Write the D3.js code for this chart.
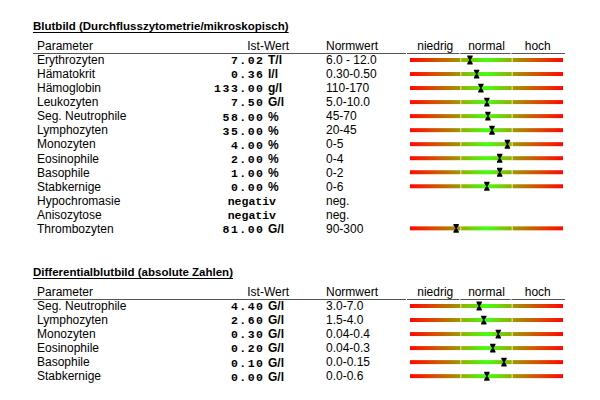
<!DOCTYPE html>
<html>
<head>
<meta charset="utf-8">
<script src="https://cdn.jsdelivr.net/npm/d3@7"></script>
<style>
  body { margin: 0; background: #fff; }
  svg { display: block; }
  text { font-family: "Liberation Sans", Arial, sans-serif; font-size: 12px; fill: #000; }
  .title { font-weight: bold; font-size: 11.5px; }
  .num { font-family: "Liberation Mono", "DejaVu Sans Mono", monospace; font-weight: bold; font-size: 11.5px; letter-spacing: 1.5px; }
  .word { font-family: "Liberation Mono", "DejaVu Sans Mono", monospace; font-weight: bold; font-size: 11.5px; }
  .unit { font-weight: bold; font-size: 12px; }
</style>
</head>
<body>
<svg id="chart" width="600" height="400"></svg>
<script>
// Blutbild
const titles = ["Blutbild (Durchflusszytometrie/mikroskopisch)", "Differentialblutbild (absolute Zahlen)"];
const headers = ["Parameter", "Ist-Wert", "Normwert"];
const zones = ["niedrig", "normal", "hoch"];

const params1 = ["Erythrozyten", "Hämatokrit", "Hämoglobin", "Leukozyten", "Seg. Neutrophile", "Lymphozyten",
  "Monozyten", "Eosinophile", "Basophile", "Stabkernige", "Hypochromasie", "Anisozytose", "Thrombozyten"];
const values1 = [7.02, 0.36, 133.0, 7.5, 58.0, 35.0, 4.0, 2.0, 1.0, 0.0, "negativ", "negativ", 81.0];
const units1 = ["T/l", "l/l", "g/l", "G/l", "%", "%", "%", "%", "%", "%", "", "", "G/l"];
const norms1 = ["6.0 - 12.0", "0.30-0.50", "110-170", "5.0-10.0", "45-70", "20-45", "0-5", "0-4", "0-2", "0-6",
  "neg.", "neg.", "90-300"];
const lower1 = [6, 0.3, 110, 5, 45, 20, 0, 0, 0, 0, null, null, 90];
const upper1 = [12, 0.5, 170, 10, 70, 45, 5, 4, 2, 6, null, null, 300];

// Differentialblutbild
const params2 = ["Seg. Neutrophile", "Lymphozyten", "Monozyten", "Eosinophile", "Basophile", "Stabkernige"];
const values2 = [4.4, 2.6, 0.3, 0.2, 0.1, 0.0];
const units2 = ["G/l", "G/l", "G/l", "G/l", "G/l", "G/l"];
const norms2 = ["3.0-7.0", "1.5-4.0", "0.04-0.4", "0.04-0.3", "0.0-0.15", "0.0-0.6"];
const lower2 = [3, 1.5, 0.04, 0.04, 0, 0];
const upper2 = [7, 4, 0.4, 0.3, 0.15, 0.6];

const svg = d3.select("#chart");
const fmt = d3.format(".2f");

// colour ramps for the three zones
const defs = svg.append("defs");
function grad(id, stops) {
  const g = defs.append("linearGradient").attr("id", id);
  stops.forEach(s => g.append("stop").attr("offset", s[0]).attr("stop-color", s[1]));
}
grad("g-niedrig", [[0, "#ff0800"], [0.45, "#dc4600"], [1, "#9c9a00"]]);
grad("g-normal", [[0, "#94ae00"], [0.5, "#44ff11"], [1, "#94ae00"]]);
grad("g-hoch", [[0, "#9c9a00"], [0.55, "#dc4600"], [1, "#ff0800"]]);

const zoneX = d3.scaleBand().domain(zones).range([410, 563]).paddingInner(0.015);

function drawSection(offsetY, title, params, values, units, norms, lower, upper) {
  const g = svg.append("g").attr("transform", `translate(0,${offsetY})`);

  const t = g.append("text").attr("class", "title").attr("x", 33).attr("y", 30).text(title);
  const tw = t.node().getComputedTextLength();
  g.append("rect").attr("x", 33).attr("y", 32).attr("width", tw).attr("height", 1).attr("fill", "#000");

  // header
  g.append("text").attr("x", 37).attr("y", 50).text(headers[0]);
  g.append("text").attr("x", 289).attr("y", 50).attr("text-anchor", "end").text(headers[1]);
  g.append("text").attr("x", 326).attr("y", 50).text(headers[2]);
  g.selectAll(".zh").data(zones).join("text")
    .attr("x", d => zoneX(d) + zoneX.bandwidth() / 2)
    .attr("y", 50).attr("text-anchor", "middle").text(d => d);

  // header rule, broken at the zone columns
  const cuts = [33, zoneX("niedrig") - 3, zoneX("normal") - 1, zoneX("hoch") - 1, 566];
  g.selectAll(".rule").data(d3.pairs(cuts)).join("rect")
    .attr("x", d => d[0]).attr("y", 53)
    .attr("width", d => d[1] - d[0] - 1).attr("height", 1).attr("fill", "#555");

  const y = d3.scalePoint().domain(d3.range(params.length)).range([60, 60 + 14.03 * (params.length - 1)]);

  const rows = g.selectAll(".row").data(params).join("g")
    .attr("transform", (d, i) => `translate(0,${y(i)})`);

  rows.append("text").attr("x", 37).attr("y", 4.3).text(d => d);

  rows.append("text")
    .attr("class", (d, i) => typeof values[i] === "number" ? "num" : "word")
    .attr("x", (d, i) => typeof values[i] === "number" ? 264.5 : 276)
    .attr("y", 4.4).attr("text-anchor", "end")
    .text((d, i) => typeof values[i] === "number" ? fmt(values[i]) : values[i]);

  rows.append("text").attr("class", "unit").attr("x", 268).attr("y", 4.4).text((d, i) => units[i]);
  rows.append("text").attr("x", 326).attr("y", 4.3).text((d, i) => norms[i]);

  const barRows = rows.filter((d, i) => lower[i] !== null);

  barRows.selectAll(".seg").data(zones).join("rect")
    .attr("x", d => zoneX(d)).attr("y", -2)
    .attr("width", zoneX.bandwidth()).attr("height", 4)
    .attr("fill", d => `url(#g-${d})`);

  barRows.each(function (d) {
    const i = params.indexOf(d);
    const lo = lower[i], hi = upper[i];
    const x = d3.scaleLinear()
      .domain(lo > 0 ? [0, lo, hi, 2 * hi] : [-2 * hi, -hi, hi, 2 * hi])
      .range([zoneX("niedrig"), zoneX("normal"), zoneX("hoch"), zoneX("hoch") + zoneX.bandwidth()])
      .clamp(true);
    d3.select(this).append("path")
      .attr("transform", `translate(${x(values[i])},0)`)
      .attr("d", "M-2.7,-4.4L2.7,-4.4L2.7,-3.2L0.6,0L2.7,3.2L2.7,4.5L-2.7,4.5L-2.7,3.2L-0.6,0L-2.7,-3.2Z")
      .attr("fill", "#000");
  });
}

drawSection(0, titles[0], params1, values1, units1, norms1, lower1, upper1);
drawSection(246, titles[1], params2, values2, units2, norms2, lower2, upper2);
</script>
</body>
</html>
